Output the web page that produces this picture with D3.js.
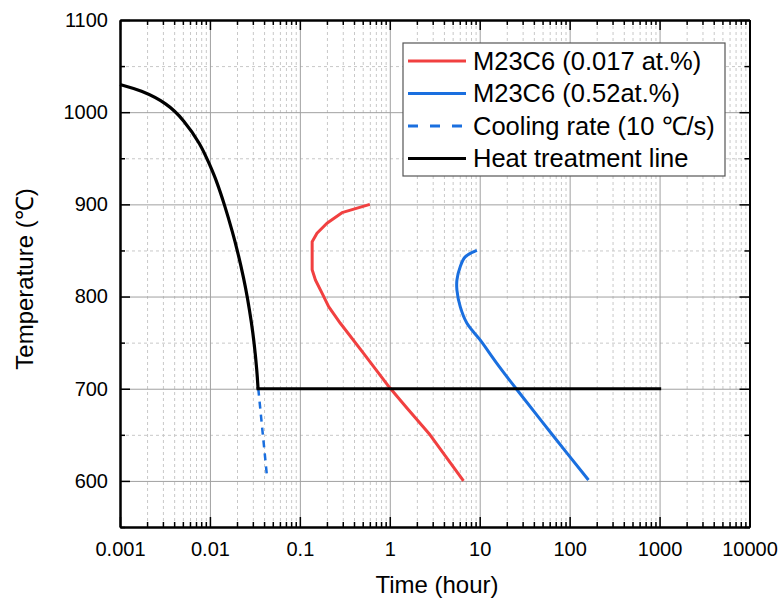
<!DOCTYPE html>
<html>
<head>
<meta charset="utf-8">
<script src="https://cdn.jsdelivr.net/npm/d3@7"></script>
<style>
  body { margin: 0; background: #fff; }
  svg { font-family: "Liberation Sans", Arial, sans-serif; }
</style>
</head>
<body>
<svg id="chart" width="781" height="603"></svg>
<script>
// data: [time (hour), temperature (C)]
const lowCarbon = [
  [0.6, 900], [0.294, 891], [0.2, 879.5], [0.155, 868.6], [0.137, 859.5],
  [0.137, 829], [0.149, 818], [0.177, 803.5], [0.209, 789], [0.282, 771],
  [0.511, 738.4], [1.0, 701], [1.55, 679], [2.8, 650], [6.6, 600]
];
const highCarbon = [
  [9.3, 850], [6.9, 843], [6.07, 832.4], [5.58, 818], [5.58, 807],
  [6.07, 789], [7.21, 771], [10.1, 753], [15.5, 727.6], [25.2, 700.5],
  [62, 652], [162, 601]
];
const coolingRate = [[0.0345, 700], [0.0433, 603]];
const heatCurve = [
  [0.001, 1030], [0.00169, 1024], [0.00335, 1009.6], [0.00512, 991.5],
  [0.00783, 966], [0.01014, 941], [0.01175, 926.4], [0.0145, 900],
  [0.018, 868.6], [0.0202, 850], [0.024, 818], [0.026, 800],
  [0.0291, 771], [0.0311, 749], [0.0333, 720], [0.0343, 700]
];
const heatHold = [[0.0343, 700], [1000, 700]];

const xMajor = [0.001, 0.01, 0.1, 1, 10, 100, 1000, 10000];
const xLabels = ['0.001', '0.01', '0.1', '1', '10', '100', '1000', '10000'];
const yMajor = [600, 700, 800, 900, 1000, 1100];
const yMinor = [550, 650, 750, 850, 950, 1050];

const legendNames = ['M23C6 (0.017 at.%)', 'M23C6 (0.52at.%)', 'Cooling rate (10 \u2103/s)', 'Heat treatment line'];
const legendColors = ['#f14040', '#1a6fdf', '#1a6fdf', '#000000'];
const legendDash = [null, null, '10,12', null];

main();

function main () {
  const svg = d3.select('#chart');
  const L = 120, R = 749.5, T = 20, B = 527;
  const W = R - L, H = B - T;

  const x = d3.scaleLog().domain([0.001, 10000]).range([0, W]);
  const y = d3.scaleLinear().domain([550, 1100]).range([H, 0]);

  const xMinor = [];
  for (let i = 0; i < xMajor.length - 1; i++) {
    for (let k = 2; k <= 9; k++) xMinor.push(xMajor[i] * k);
  }

  const g = svg.append('g').attr('transform', `translate(${L},${T})`);

  // grid
  const grid = g.append('g');
  grid.append('g').attr('transform', `translate(0,${H})`)
    .call(d3.axisBottom(x).tickValues(xMinor).tickSize(-H).tickFormat(''))
    .call(s => s.select('.domain').remove())
    .selectAll('line').attr('stroke', '#c8c8c8').attr('stroke-dasharray', '3,3');
  grid.append('g')
    .call(d3.axisLeft(y).tickValues(yMinor).tickSize(-W).tickFormat(''))
    .call(s => s.select('.domain').remove())
    .selectAll('line').attr('stroke', '#c8c8c8').attr('stroke-dasharray', '3,3');
  grid.append('g').attr('transform', `translate(0,${H})`)
    .call(d3.axisBottom(x).tickValues(xMajor).tickSize(-H).tickFormat(''))
    .call(s => s.select('.domain').remove())
    .selectAll('line').attr('stroke', '#a0a0a0');
  grid.append('g')
    .call(d3.axisLeft(y).tickValues(yMajor).tickSize(-W).tickFormat(''))
    .call(s => s.select('.domain').remove())
    .selectAll('line').attr('stroke', '#a0a0a0');

  // series
  const line = d3.line().x(d => x(d[0])).y(d => y(d[1]));
  g.append('path').datum(lowCarbon).attr('d', line)
    .attr('fill', 'none').attr('stroke', legendColors[0]).attr('stroke-width', 3)
    .attr('stroke-linejoin', 'round');
  g.append('path').datum(highCarbon).attr('d', line.curve(d3.curveCatmullRom))
    .attr('fill', 'none').attr('stroke', legendColors[1]).attr('stroke-width', 3);
  g.append('path').datum(coolingRate).attr('d', line.curve(d3.curveLinear))
    .attr('fill', 'none').attr('stroke', legendColors[2]).attr('stroke-width', 2.5)
    .attr('stroke-dasharray', '7,6');
  g.append('path').datum(heatCurve).attr('d', line.curve(d3.curveBasis))
    .attr('fill', 'none').attr('stroke', legendColors[3]).attr('stroke-width', 3.2);
  g.append('path').datum(heatHold).attr('d', line.curve(d3.curveLinear))
    .attr('fill', 'none').attr('stroke', legendColors[3]).attr('stroke-width', 3.2)
    .attr('stroke-linecap', 'square');

  // axes
  const styleAxis = s => {
    s.select('.domain').attr('stroke', '#000').attr('stroke-width', 2);
    s.selectAll('line').attr('stroke', '#000').attr('stroke-width', 1.5);
    s.selectAll('text').attr('font-size', 20).attr('fill', '#000')
      .attr('font-family', '"Liberation Sans", Arial, sans-serif');
  };
  const none = () => '';

  g.append('g').attr('transform', `translate(0,${H})`)
    .call(d3.axisBottom(x).tickValues(xMinor).tickSizeInner(-5).tickSizeOuter(0).tickFormat(none)).call(styleAxis);
  g.append('g').attr('transform', `translate(0,${H})`)
    .call(d3.axisBottom(x).tickValues(xMajor).tickSizeInner(-10).tickSizeOuter(0).tickPadding(15)
      .tickFormat((d, i) => xLabels[i])).call(styleAxis);
  g.append('g')
    .call(d3.axisTop(x).tickValues(xMinor).tickSizeInner(-5).tickSizeOuter(0).tickFormat(none)).call(styleAxis);
  g.append('g')
    .call(d3.axisTop(x).tickValues(xMajor).tickSizeInner(-10).tickSizeOuter(0).tickFormat(none)).call(styleAxis);

  g.append('g')
    .call(d3.axisLeft(y).tickValues(yMinor).tickSizeInner(-5).tickSizeOuter(0).tickFormat(none)).call(styleAxis);
  g.append('g')
    .call(d3.axisLeft(y).tickValues(yMajor).tickSizeInner(-10).tickSizeOuter(0).tickPadding(12)
      .tickFormat(d3.format('d'))).call(styleAxis);
  g.append('g').attr('transform', `translate(${W},0)`)
    .call(d3.axisRight(y).tickValues(yMinor).tickSizeInner(-5).tickSizeOuter(0).tickFormat(none)).call(styleAxis);
  g.append('g').attr('transform', `translate(${W},0)`)
    .call(d3.axisRight(y).tickValues(yMajor).tickSizeInner(-10).tickSizeOuter(0).tickFormat(none)).call(styleAxis);

  // titles
  svg.append('text').text('Time (hour)')
    .attr('x', 437).attr('y', 593).attr('text-anchor', 'middle')
    .attr('font-size', 24).attr('fill', '#000');
  svg.append('text').text('Temperature (\u2103)')
    .attr('transform', 'translate(33,279) rotate(-90)')
    .attr('text-anchor', 'middle').attr('font-size', 24).attr('fill', '#000');

  // legend
  const lg = svg.append('g').attr('transform', 'translate(403,43)');
  lg.append('rect').attr('width', 322).attr('height', 133)
    .attr('fill', '#fff').attr('stroke', '#555').attr('stroke-width', 1.2);
  legendNames.forEach((name, i) => {
    const cy = 18 + i * 32.5;
    lg.append('line').attr('x1', 5).attr('x2', 63).attr('y1', cy).attr('y2', cy)
      .attr('stroke', legendColors[i]).attr('stroke-width', 3)
      .attr('stroke-dasharray', legendDash[i]);
    lg.append('text').text(name).attr('x', 70).attr('y', cy + 8.5)
      .attr('font-size', 25.5).attr('fill', '#000');
  });
}
</script>
</body>
</html>
